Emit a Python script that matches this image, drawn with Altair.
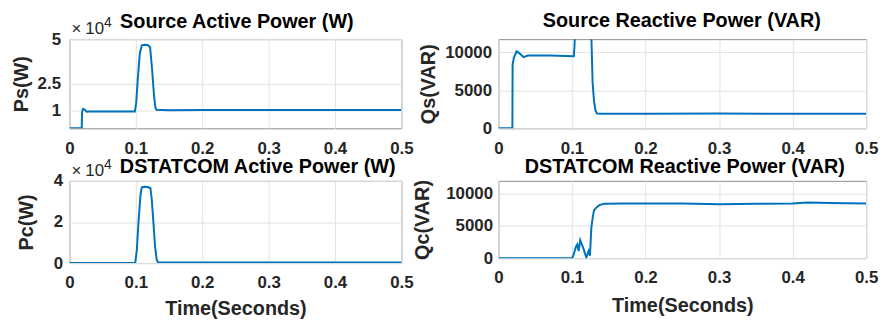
import altair as alt
import pandas as pd

FONT = "Liberation Sans"
BLUE = "#0072BD"
INK = "#262626"

# ---- data (time in s) ----
# Source active power Ps (W)
ps_t = [0, 0.0185, 0.019, 0.0205, 0.023, 0.026, 0.03, 0.06, 0.0985, 0.1005, 0.103, 0.106, 0.109,
        0.113, 0.118, 0.1215, 0.1245, 0.1275, 0.1295, 0.131, 0.15, 0.2, 0.3, 0.4, 0.5]
ps_v = [0, 0, 9000, 10900, 10500, 9300, 9400, 9450, 9500, 14000, 28000, 42000, 46500,
        46800, 46700, 45500, 33000, 18000, 11500, 10400, 10200, 10300, 10300, 10300, 10300]

# Source reactive power Qs (VAR)
qs_t = [0, 0.0189, 0.0192, 0.021, 0.0247, 0.029, 0.034, 0.04, 0.07, 0.1024, 0.1035, 0.105,
        0.108, 0.12, 0.1258, 0.128, 0.130, 0.132, 0.134, 0.14, 0.2, 0.3, 0.4, 0.5]
qs_v = [0, 0, 8400, 9300, 10100, 9800, 9350, 9550, 9550, 9450, 11000, 16000,
        30000, 30000, 14000, 6000, 3500, 2300, 1950, 1900, 1900, 1950, 1900, 1900]

# DSTATCOM active power Pc (W)
pc_t = [0, 0.099, 0.1015, 0.104, 0.107, 0.109, 0.113, 0.118, 0.122, 0.124, 0.126, 0.129,
        0.1315, 0.1335, 0.2, 0.3, 0.4, 0.5]
pc_v = [0, 0, 6300, 20000, 33000, 36800, 37100, 37000, 36400, 31000, 22000, 8000,
        1500, 300, 300, 300, 300, 300]

# DSTATCOM reactive power Qc (VAR)
qc_t = [0, 0.1005, 0.103, 0.1058, 0.1072, 0.109, 0.1112, 0.1158, 0.1194, 0.1226, 0.1244,
        0.1263, 0.1281, 0.1299, 0.133, 0.1376, 0.1444, 0.17, 0.2, 0.25, 0.3, 0.35, 0.4,
        0.42, 0.45, 0.5]
qc_v = [0, 0, 870, 1900, 2140, 1100, 2780, 1390, 100, 1100, 370,
        4740, 6290, 7430, 7840, 8250, 8460, 8500, 8500, 8500, 8350, 8450, 8500,
        8650, 8550, 8500]

x_ticks = [0, 0.1, 0.2, 0.3, 0.4, 0.5]
ps_ticks = [10000, 25000, 50000]
pc_ticks = [0, 20000, 40000]
q_ticks = [0, 5000, 10000]
expo_times = ["×"]
expo_base = ["10"]
expo_pow = ["4"]

titles = ["Source Active Power (W)", "Source Reactive Power (VAR)",
          "DSTATCOM Active Power (W)", "DSTATCOM Reactive Power (VAR)"]
ytitles = ["Ps(W)", "Qs(VAR)", "Pc(W)", "Qc(VAR)"]
xtitle = "Time(Seconds)"


def txt(values, size, weight, x, y, align="left"):
    return alt.Chart(pd.DataFrame({"s": values})).mark_text(
        align=align, baseline="alphabetic", font=FONT, fontSize=size,
        fontWeight=weight, color="black" if weight == "bold" else INK
    ).encode(text="s:N", x=alt.value(x), y=alt.value(y))


def panel(t, v, title, ytitle, ydomain, yvals, w, h, ylp, yext, ytp,
          xlp, xtp, show_xtitle, tx, ty, scaled=False):
    df = pd.DataFrame({"t": t, "v": v})
    xaxis_kw = dict(values=x_ticks, format="~g", labelPadding=xlp, labelFlush=False,
                    ticks=False, tickSize=0, domain=False, grid=True)
    if show_xtitle:
        xaxis_kw.update(title=xtitle, titlePadding=xtp)
    else:
        xaxis_kw.update(title=None)
    yaxis_kw = dict(values=yvals, title=ytitle, labelPadding=ylp, minExtent=yext,
                    maxExtent=yext, titlePadding=ytp, ticks=False, tickSize=0,
                    domain=False, grid=True)
    if scaled:
        yaxis_kw["labelExpr"] = "format(datum.value / 10000, '~g')"
    else:
        yaxis_kw["format"] = "d"
    line = alt.Chart(df).mark_line(color=BLUE, strokeWidth=2, clip=True).encode(
        x=alt.X("t:Q", scale=alt.Scale(domain=[0, 0.5], nice=False, zero=False),
                axis=alt.Axis(**xaxis_kw)),
        y=alt.Y("v:Q", scale=alt.Scale(domain=ydomain, nice=False),
                axis=alt.Axis(**yaxis_kw)),
    )
    layers = [line, txt([title], 20, "bold", tx, ty, "center")]
    if scaled:
        layers += [txt(expo_times, 17, "normal", 2, -5),
                   txt(expo_base, 17, "normal", 16, -5),
                   txt(expo_pow, 14, "normal", 35, -12)]
    return alt.layer(*layers).properties(width=w, height=h)


p1 = panel(ps_t, ps_v, titles[0], ytitles[0], [0, 50000], ps_ticks, 335, 90,
           9, 30, 8, 12, 4, False, 169, -11, True)
p2 = panel(qs_t, qs_v, titles[1], ytitles[1], [0, 11700], q_ticks, 371, 90,
           7, 57, 4, 12, 4, False, 185, -12)
p3 = panel(pc_t, pc_v, titles[2], ytitles[2], [0, 40000], pc_ticks, 335, 83,
           7, 17, 16, 12, 8, True, 190, -8, True)
p4 = panel(qc_t, qc_v, titles[3], ytitles[3], [0, 12000], q_ticks, 371, 78,
           6, 56, 11, 12, 10, True, 188, -8)

chart = alt.concat(p1, p2, p3, p4, columns=2, bounds="flush",
                   spacing={"row": 53, "column": 98}).properties(
    padding={"left": 3, "top": 1, "right": 0, "bottom": 0}
).configure_view(stroke="#8c8c8c", strokeWidth=1).configure_axis(
    gridColor="#e3e3e3", gridOpacity=1, labelFont=FONT, labelFontSize=17,
    labelFontWeight="bold", labelColor=INK, titleFont=FONT, titleFontSize=20,
    titleFontWeight="bold", titleColor=INK,
)

chart.save("out.html", embed_options={"renderer": "svg", "actions": False})
